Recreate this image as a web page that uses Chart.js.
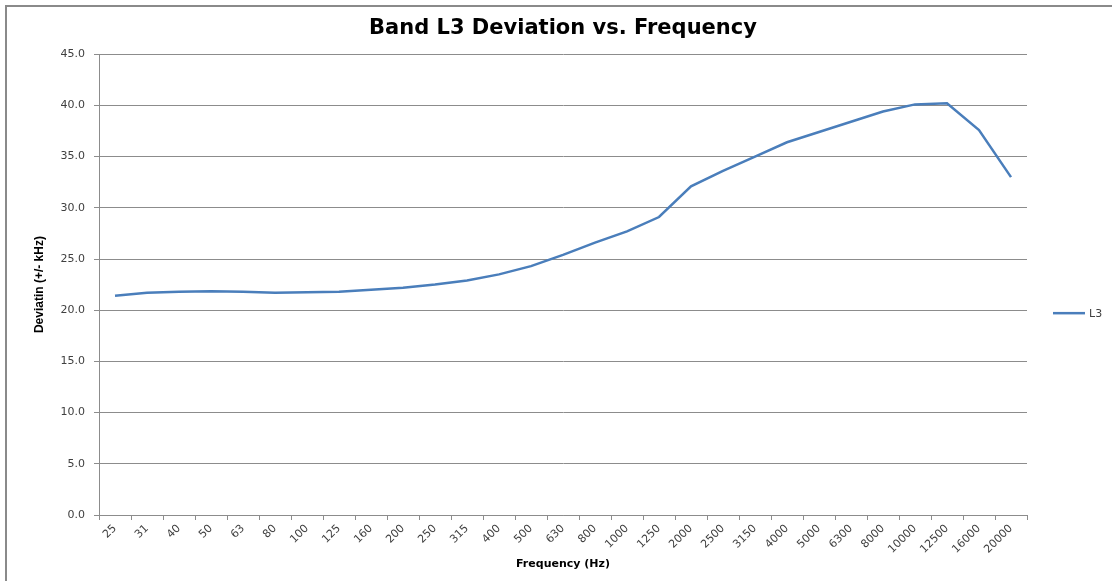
<!DOCTYPE html>
<html>
<head>
<meta charset="utf-8">
<script src="https://cdn.jsdelivr.net/npm/chart.js@4/dist/chart.umd.min.js"></script>
<style>
  html, body { margin: 0; padding: 0; background: #ffffff; }
  #wrap { position: relative; width: 1112px; height: 581px; overflow: hidden; }
  #frame { position: absolute; left: 5px; top: 5px; right: -4px; bottom: -4px;
           border-left: 2px solid #8a8a8a; border-top: 2px solid #8a8a8a; }
  canvas { position: absolute; left: 0; top: 0; }
</style>
</head>
<body>
<div id="wrap">
  <div id="frame"></div>
  <canvas id="chart" width="1112" height="581"></canvas>
</div>
<script>
// Third-octave band centre frequencies (Hz)
const frequencies = ['25', '31', '40', '50', '63', '80', '100', '125', '160', '200', '250',
  '315', '400', '500', '630', '800', '1000', '1250', '2000', '2500', '3150', '4000',
  '5000', '6300', '8000', '10000', '12500', '16000', '20000'];

// Measured deviation for band L3 (+/- kHz)
const deviationL3 = [21.4, 21.7, 21.8, 21.85, 21.8, 21.7, 21.75, 21.8, 22.0, 22.2, 22.5,
  22.9, 23.5, 24.3, 25.4, 26.6, 27.7, 29.1, 32.1, 33.6, 35.0, 36.4, 37.4, 38.4,
  39.4, 40.1, 40.2, 37.6, 33.0];

const yMin = 0, yMax = 45, yStep = 5;

const GRID = '#8c8c8c';
const TEXT = '#404040';
const LINE = '#4a7ebb';

// Right-hand legend drawn next to the plot area
const sideLegend = {
  id: 'sideLegend',
  afterDraw(chart) {
    const { ctx, chartArea } = chart;
    const y = chartArea.top + (chartArea.bottom - chartArea.top) * 0.562;
    const x0 = chartArea.right + 26;
    chart.data.datasets.forEach((ds, i) => {
      const yy = y + i * 18;
      ctx.save();
      ctx.strokeStyle = ds.borderColor;
      ctx.lineWidth = ds.borderWidth;
      ctx.beginPath();
      ctx.moveTo(x0, yy);
      ctx.lineTo(x0 + 32, yy);
      ctx.stroke();
      ctx.fillStyle = TEXT;
      ctx.font = '11px "DejaVu Sans"';
      ctx.textBaseline = 'middle';
      ctx.textAlign = 'left';
      ctx.fillText(ds.label, x0 + 36, yy + 1);
      ctx.restore();
    });
  }
};

new Chart(document.getElementById('chart'), {
  type: 'line',
  data: {
    labels: frequencies,
    datasets: [{
      label: 'L3',
      data: deviationL3,
      borderColor: LINE,
      backgroundColor: LINE,
      borderWidth: 2.5,
      pointRadius: 0,
      tension: 0,
      fill: false
    }]
  },
  options: {
    responsive: false,
    animation: false,
    devicePixelRatio: 1,
    layout: { padding: { left: 22, right: 85, top: 8, bottom: 4 } },
    plugins: {
      legend: { display: false },
      tooltip: { enabled: false },
      title: {
        display: true,
        fullSize: false,
        text: 'Band L3 Deviation vs. Frequency',
        color: '#000000',
        font: { family: '"DejaVu Sans"', size: 21, weight: 'bold', lineHeight: 1.2 },
        padding: { top: 8, bottom: 13 }
      }
    },
    scales: {
      x: {
        offset: true,
        afterFit(s) { s.height = 62; },
        grid: {
          display: true,
          offset: true,
          drawOnChartArea: false,
          drawTicks: true,
          tickLength: 5,
          color: GRID
        },
        border: { display: true, color: GRID, width: 1 },
        ticks: {
          autoSkip: false,
          maxRotation: 45,
          minRotation: 45,
          padding: 2,
          color: TEXT,
          font: { family: '"DejaVu Sans"', size: 11 }
        },
        title: {
          display: true,
          text: 'Frequency (Hz)',
          color: '#000000',
          font: { family: '"DejaVu Sans"', size: 11, weight: 'bold' },
          padding: { top: 0, bottom: 6 }
        }
      },
      y: {
        min: yMin,
        max: yMax,
        afterFit(s) { s.width = 77; },
        grid: {
          color: GRID,
          lineWidth: 1,
          drawTicks: true,
          tickLength: 5
        },
        border: { display: true, color: GRID, width: 1 },
        ticks: {
          stepSize: yStep,
          padding: 9,
          color: TEXT,
          font: { family: '"DejaVu Sans"', size: 11 },
          callback: v => Number(v).toFixed(1)
        },
        title: {
          display: true,
          text: 'Deviatin (+/- kHz)',
          color: '#000000',
          font: { family: '"Liberation Sans Narrow", "Liberation Sans"', size: 12, weight: 'bold' },
          padding: { top: 10, bottom: 0 }
        }
      }
    }
  },
  plugins: [sideLegend]
});
</script>
</body>
</html>
